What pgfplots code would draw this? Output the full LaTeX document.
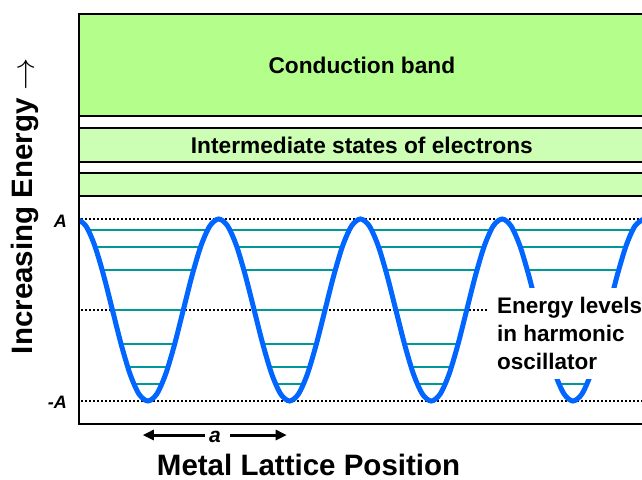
\documentclass[border=0pt]{standalone}
\usepackage{pgfplots}
\pgfplotsset{compat=1.18}
\usepackage{graphicx}
\usepackage{fontspec}
\setmainfont{Liberation Sans}
\usetikzlibrary{arrows.meta}

\definecolor{condband}{RGB}{180,255,140}
\definecolor{midband}{RGB}{204,255,179}
\definecolor{wavecol}{RGB}{0,102,255}
\definecolor{levelcol}{RGB}{0,153,153}

\begin{document}
\begin{tikzpicture}
\useasboundingbox (-79bp,-56bp) rectangle (563bp,424bp);
\begin{axis}[
  at={(0,0)}, anchor=south west,
  scale only axis, width=563bp, height=410bp,
  xmin=0.014, xmax=3.987, ymin=-1.2527, ymax=3.2527,
  hide axis, clip mode=individual,
  unbounded coords=jump,
]

% bands
\addplot[draw=black, line width=2bp, fill=condband] coordinates {(-1,2.132) (6,2.132) (6,3.6) (-1,3.6)} -- cycle;
\addplot[draw=black, line width=2bp, fill=midband] coordinates {(-1,1.626) (6,1.626) (6,2.0) (-1,2.0)} -- cycle;
\addplot[draw=black, line width=2bp, fill=midband] coordinates {(-1,1.253) (6,1.253) (6,1.505) (-1,1.505)} -- cycle;

% dotted guide lines at A, 0, -A
\addplot[black, line width=1.8bp, dash pattern=on 1.8bp off 2.2bp] coordinates {(0,1) (5,1)};
\addplot[black, line width=1.8bp, dash pattern=on 1.8bp off 2.2bp] coordinates {(0,-1) (5,-1)};
\addplot[black, line width=1.8bp, dash pattern=on 1.8bp off 2.2bp] coordinates {(0,0) (2.893,0)};

% energy levels inside each well
\addplot[levelcol, line width=2bp] table[row sep=\\] {
x y\\
0.0791 0.879\\ 0.9209 0.879\\ nan nan\\ 1.0791 0.879\\ 1.9209 0.879\\ nan nan\\ 2.0791 0.879\\ 2.9209 0.879\\ nan nan\\ 3.0791 0.879\\ 3.9209 0.879\\ nan nan\\
0.1284 0.692\\ 0.8716 0.692\\ nan nan\\ 1.1284 0.692\\ 1.8716 0.692\\ nan nan\\ 2.1284 0.692\\ 2.8716 0.692\\ nan nan\\ 3.1284 0.692\\ 3.8716 0.692\\ nan nan\\
0.1775 0.440\\ 0.8225 0.440\\ nan nan\\ 1.1775 0.440\\ 1.8225 0.440\\ nan nan\\ 2.1775 0.440\\ 2.8225 0.440\\ nan nan\\ 3.1775 0.440\\ 3.8225 0.440\\ nan nan\\
0.2500 0\\ 0.7500 0\\ nan nan\\ 1.2500 0\\ 1.7500 0\\ nan nan\\ 2.2500 0\\ 2.7500 0\\ nan nan\\ 3.2500 0\\ 3.7500 0\\ nan nan\\
0.3110 -0.374\\ 0.6890 -0.374\\ nan nan\\ 1.3110 -0.374\\ 1.6890 -0.374\\ nan nan\\ 2.3110 -0.374\\ 2.6890 -0.374\\ nan nan\\ 3.3110 -0.374\\ 3.6890 -0.374\\ nan nan\\
0.3577 -0.626\\ 0.6423 -0.626\\ nan nan\\ 1.3577 -0.626\\ 1.6423 -0.626\\ nan nan\\ 2.3577 -0.626\\ 2.6423 -0.626\\ nan nan\\ 3.3577 -0.626\\ 3.6423 -0.626\\ nan nan\\
0.4011 -0.813\\ 0.5989 -0.813\\ nan nan\\ 1.4011 -0.813\\ 1.5989 -0.813\\ nan nan\\ 2.4011 -0.813\\ 2.5989 -0.813\\ nan nan\\ 3.4011 -0.813\\ 3.5989 -0.813\\
};

% potential curve
\addplot[wavecol, line width=5bp, smooth] coordinates {
(0,1) (0.0625,0.9239) (0.125,0.7071) (0.1875,0.3827) (0.25,0) (0.3125,-0.3827) (0.375,-0.7071) (0.4375,-0.9239)
(0.5,-1) (0.5625,-0.9239) (0.625,-0.7071) (0.6875,-0.3827) (0.75,0) (0.8125,0.3827) (0.875,0.7071) (0.9375,0.9239)
(1,1) (1.0625,0.9239) (1.125,0.7071) (1.1875,0.3827) (1.25,0) (1.3125,-0.3827) (1.375,-0.7071) (1.4375,-0.9239)
(1.5,-1) (1.5625,-0.9239) (1.625,-0.7071) (1.6875,-0.3827) (1.75,0) (1.8125,0.3827) (1.875,0.7071) (1.9375,0.9239)
(2,1) (2.0625,0.9239) (2.125,0.7071) (2.1875,0.3827) (2.25,0) (2.3125,-0.3827) (2.375,-0.7071) (2.4375,-0.9239)
(2.5,-1) (2.5625,-0.9239) (2.625,-0.7071) (2.6875,-0.3827) (2.75,0) (2.8125,0.3827) (2.875,0.7071) (2.9375,0.9239)
(3,1) (3.0625,0.9239) (3.125,0.7071) (3.1875,0.3827) (3.25,0) (3.3125,-0.3827) (3.375,-0.7071) (3.4375,-0.9239)
(3.5,-1) (3.5625,-0.9239) (3.625,-0.7071) (3.6875,-0.3827) (3.75,0) (3.8125,0.3827) (3.875,0.7071) (3.9375,0.9239)
(4,1)
};

% labels
\node[fill=white, anchor=north west, inner xsep=9bp, inner ysep=9bp, align=left,
  font=\fontsize{22.5bp}{28bp}\selectfont\bfseries] at (2.900,0.2418) {Energy levels\\in harmonic\\oscillator};
\node[font=\fontsize{22.7bp}{27bp}\selectfont\bfseries] at (2.01,2.692) {Conduction band};
\node[font=\fontsize{22.7bp}{27bp}\selectfont\bfseries] at (2.01,1.813) {Intermediate states of electrons};
\node[anchor=east, inner sep=0pt, font=\fontsize{18bp}{20bp}\selectfont\bfseries\itshape] at (-0.0706,0.978) {A};
\node[anchor=east, inner sep=0pt, font=\fontsize{18bp}{20bp}\selectfont\bfseries\itshape] at (-0.0706,-1.011) {-A};
\node[inner sep=0pt, font=\fontsize{21bp}{24bp}\selectfont\bfseries\itshape] at (0.974,-1.396) {a};
\draw[line width=3bp, -{Triangle[length=11bp,width=10bp]}] (0.903,-1.374) -- (0.464,-1.374);
\draw[line width=3bp, -{Triangle[length=11bp,width=10bp]}] (1.080,-1.374) -- (1.480,-1.374);
\node[anchor=base, inner sep=0pt, font=\fontsize{29.5bp}{32bp}\selectfont\bfseries] at (1.634,-1.818) {Metal Lattice Position};
\node[rotate=90, anchor=base, font=\fontsize{29.5bp}{32bp}\selectfont\bfseries] at (-0.311,1.143) {Increasing Energy \raisebox{-1bp}{\scalebox{1.3}{$\rightarrow$}}};

% frame: left, top and bottom
\draw[line width=2.5bp] (rel axis cs:1.1,1) -- (rel axis cs:0,1) -- (rel axis cs:0,0) -- (rel axis cs:1.1,0);
\end{axis}
\end{tikzpicture}
\end{document}
